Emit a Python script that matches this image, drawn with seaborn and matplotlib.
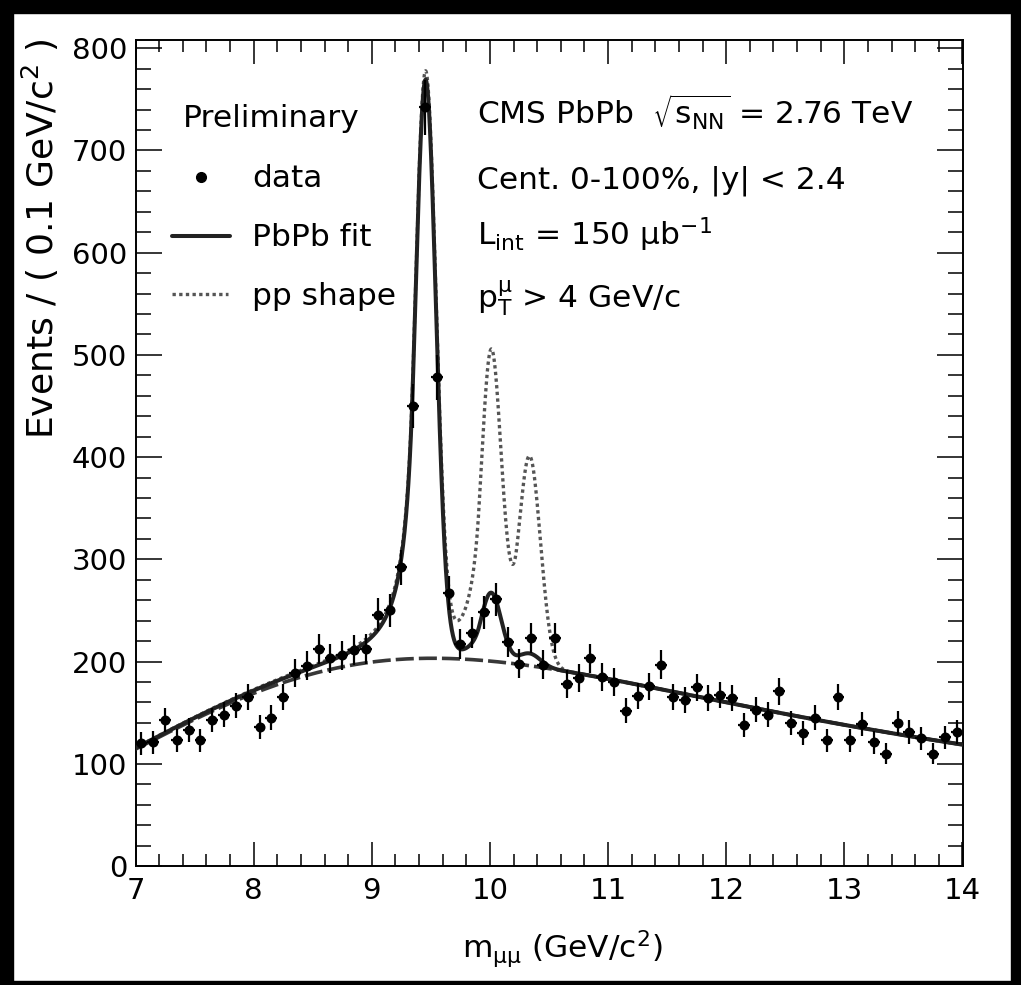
import math
import numpy as np
import pandas as pd
import matplotlib
matplotlib.use("Agg")
import matplotlib.pyplot as plt
from matplotlib.patches import Rectangle
from matplotlib.lines import Line2D
import seaborn as sns

# ---------------------------------------------------------------- data
# dimuon invariant-mass histogram, 0.1 GeV/c^2 bins from 7 to 14 GeV/c^2
bin_width = 0.1
mass_lo, mass_hi = 7.0, 14.0
events = [
    120, 121, 143, 123, 133, 123, 143, 148, 157, 165,
    136, 145, 165, 189, 196, 212, 203, 206, 211, 212,
    246, 250, 292, 450, 742, 478, 267, 217, 228, 248,
    261, 219, 198, 223, 197, 223, 178, 184, 203, 185,
    180, 152, 166, 176, 197, 165, 162, 175, 164, 167,
    164, 138, 153, 148, 171, 140, 130, 145, 123, 165,
    123, 139, 121, 110, 140, 131, 125, 110, 126, 131,
]

# fitted model: erf-turn-on x exponential background + three Crystal-Ball peaks
bkg_norm_at_11 = 187.0      # events / bin at 11 GeV/c^2 (before turn-on)
bkg_decay = 6.6             # GeV/c^2
bkg_turn_on = 7.7           # GeV/c^2
bkg_turn_width = 2.3        # GeV/c^2

peak_mass = [9.455, 10.010, 10.335]     # Y(1S), Y(2S), Y(3S)
peak_sigma = [0.088, 0.085, 0.092]
cb_alpha = 1.2
cb_n = 2.0
pbpb_peak_height = [564.0, 66.0, 12.0]  # PbPb fit
pp_peak_height = [564.0, 288.0, 205.0]  # pp excited-state ratios


def background(m):
    turn_on = 0.5 * (1.0 + np.vectorize(math.erf)((m - bkg_turn_on) / bkg_turn_width))
    return bkg_norm_at_11 * np.exp(-(m - 11.0) / bkg_decay) * turn_on


def crystal_ball(m, mean, sigma):
    t = (m - mean) / sigma
    a = (cb_n / cb_alpha) ** cb_n * math.exp(-0.5 * cb_alpha ** 2)
    b = cb_n / cb_alpha - cb_alpha
    tail = a * (b - np.minimum(t, -cb_alpha)) ** (-cb_n)
    return np.where(t > -cb_alpha, np.exp(-0.5 * t ** 2), tail)


def model(m, heights):
    total = background(m)
    for mu, s, h in zip(peak_mass, peak_sigma, heights):
        total = total + h * crystal_ball(m, mu, s)
    return total


bin_centres = mass_lo + bin_width * (np.arange(len(events)) + 0.5)
hist = pd.DataFrame({"mass": bin_centres, "events": events})
hist["err"] = np.sqrt(hist["events"])

grid = np.linspace(mass_lo, mass_hi, 2801)
curves = pd.DataFrame({
    "mass": grid,
    "pbpb": model(grid, pbpb_peak_height),
    "pp": model(grid, pp_peak_height),
    "bkg": background(grid),
})

# ---------------------------------------------------------------- style
sns.set_theme(style="ticks")
plt.rcParams["font.family"] = ["DejaVu Sans"]
plt.rcParams["mathtext.fontset"] = "dejavusans"

W, H = 1021, 985
fig = plt.figure(figsize=(W / 100, H / 100), dpi=100)
fig.patch.set_facecolor("white")

ax_l, ax_r, ax_t, ax_b = 135.5, 962.5, 40.0, 866.0
ax = fig.add_axes([ax_l / W, 1 - ax_b / H, (ax_r - ax_l) / W, (ax_b - ax_t) / H])
ax.set_facecolor("white")

ink = "#000000"
line_col = "#222222"
pp_col = "#555555"

# curves: pp shape underneath, background, then PbPb fit
sns.lineplot(data=curves, x="mass", y="pp", ax=ax, color=pp_col, lw=2.4,
             linestyle=(0, (1.0, 1.0)), estimator=None, sort=False, zorder=2)
sns.lineplot(data=curves, x="mass", y="bkg", ax=ax, color="#383838", lw=2.6,
             linestyle=(0, (5, 1.4)), estimator=None, sort=False, zorder=3)
sns.lineplot(data=curves, x="mass", y="pbpb", ax=ax, color=line_col, lw=2.9,
             estimator=None, sort=False, zorder=4)

# data points with Poisson errors and bin-width bars
ax.errorbar(hist["mass"], hist["events"], yerr=hist["err"], xerr=bin_width / 2,
            fmt="none", ecolor=ink, elinewidth=1.6, capsize=0, zorder=5)
sns.scatterplot(data=hist, x="mass", y="events", ax=ax, color=ink, s=52,
                marker="o", edgecolor=ink, linewidth=0, zorder=6)

# ---------------------------------------------------------------- axes
ax.set_xlim(mass_lo, mass_hi)
ax.set_ylim(0, 808)
ax.set_xticks(np.arange(7, 15, 1))
ax.set_xticks(np.arange(7, 14.01, 0.2), minor=True)
ax.set_yticks(np.arange(0, 801, 100))
ax.set_yticks(np.arange(0, 801, 20), minor=True)
ax.set_xlabel("")
ax.set_ylabel("")
for sp in ax.spines.values():
    sp.set_visible(True)
    sp.set_linewidth(1.4)
    sp.set_color(ink)
ax.tick_params(axis="both", which="both", direction="in", top=True, right=True,
               colors=ink, width=1.1, labelsize=21)
ax.tick_params(axis="x", which="major", length=17, pad=8)
ax.tick_params(axis="x", which="minor", length=8.5)
ax.tick_params(axis="y", which="major", length=19, pad=6)
ax.tick_params(axis="y", which="minor", length=10.5)


def fx(px):
    return px / W


def fy(py):
    return 1 - py / H


fig.text(fx(40), fy(38), r"Events / ( 0.1 GeV/c$^{2}$ )", rotation=90,
         ha="center", va="top", fontsize=26, color=ink)
fig.text(fx(462), fy(958), r"m$_{\mathregular{\mu\mu}}$ (GeV/c$^{2}$)",
         ha="left", va="baseline", fontsize=22.5, color=ink)

# ---------------------------------------------------------------- legend block
txt = 22.5
fig.text(fx(183), fy(127), "Preliminary", fontsize=txt, va="baseline", color=ink)
fig.text(fx(252), fy(187), "data", fontsize=txt, va="baseline", color=ink)
fig.text(fx(252), fy(246), "PbPb fit", fontsize=txt, va="baseline", color=ink)
fig.text(fx(252), fy(305), "pp shape", fontsize=txt, va="baseline", color=ink)
fig.add_artist(Line2D([fx(201)], [fy(177)], marker="o", markersize=7,
                      color=ink, transform=fig.transFigure))
fig.add_artist(Line2D([fx(172), fx(230)], [fy(236), fy(236)], color=line_col,
                      lw=2.9, transform=fig.transFigure))
fig.add_artist(Line2D([fx(172), fx(228)], [fy(294), fy(294)], color=pp_col,
                      lw=2.4, linestyle=(0, (1.0, 1.0)), transform=fig.transFigure))

fig.text(fx(477), fy(125), r"CMS PbPb  $\sqrt{\mathregular{s_{NN}}}$ = 2.76 TeV",
         fontsize=txt, va="baseline", color=ink)
fig.text(fx(477), fy(188), "Cent. 0-100%, |y| < 2.4", fontsize=txt,
         va="baseline", color=ink)
fig.text(fx(477), fy(245), r"L$_{\mathregular{int}}$ = 150 μb$^{\mathregular{-1}}$",
         fontsize=txt, va="baseline", color=ink)
fig.text(fx(477), fy(307), r"p$_{\mathregular{T}}^{\mathregular{\mu}}$ > 4 GeV/c",
         fontsize=txt, va="baseline", color=ink)

# ---------------------------------------------------------------- outer frame
for (x0, y0, w, h) in [(0, 0, 13, H), (0, 0, W, 13), (W - 10, 0, 10, H), (0, H - 4, W, 4)]:
    fig.patches.append(Rectangle((fx(x0), fy(y0 + h)), w / W, h / H, color=ink,
                                 transform=fig.transFigure, zorder=10))

fig.savefig("out.png", dpi=100, facecolor="white")
